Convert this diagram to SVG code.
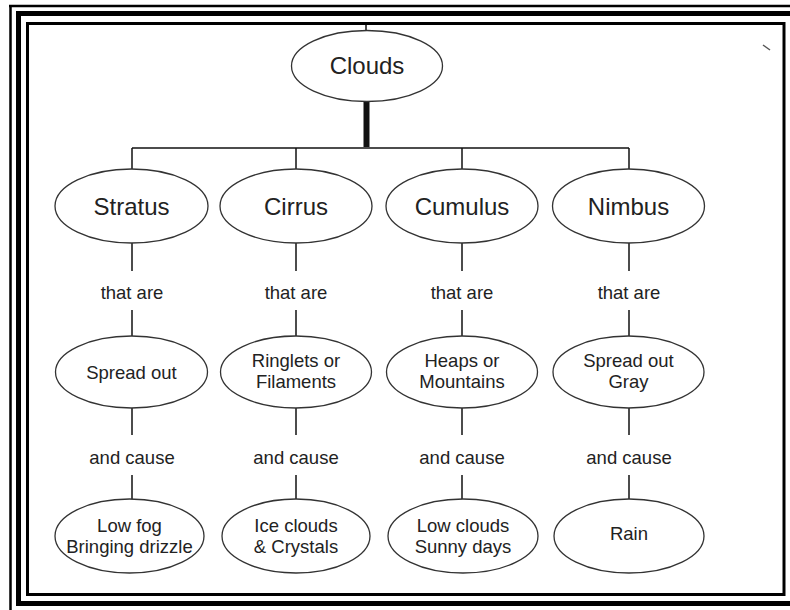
<svg xmlns="http://www.w3.org/2000/svg" width="790" height="610" viewBox="0 0 790 610">
<style>
.node ellipse{fill:#fff;stroke:#333;stroke-width:1.3}
.big{font-family:"Liberation Sans",Arial,sans-serif;font-size:24px;fill:#222;text-anchor:middle}
.sm{font-family:"Liberation Sans",Arial,sans-serif;font-size:18.5px;fill:#222;text-anchor:middle}
.conn line{stroke:#111;stroke-width:1.5}
.frame{fill:none;stroke:#000}
</style>
<rect width="790" height="610" fill="#fff"/>
<g id="frame">
<path class="frame" d="M9 6H790M10.5 5V610" stroke-width="2.5"/>
<path class="frame" d="M16 13.5H790M18.5 11V606M16 603.5H790" stroke-width="5"/>
<rect class="frame" x="27.5" y="23.5" width="756.5" height="571" stroke-width="3"/>
<line x1="763" y1="45" x2="770" y2="50" stroke="#555" stroke-width="1.5"/>
</g>
<g id="connectors" class="conn">
<line x1="366" y1="25" x2="366" y2="31"/>
<line x1="366.5" y1="102" x2="366.5" y2="147" style="stroke-width:6"/>
<line x1="132" y1="148" x2="629" y2="148"/>
<line x1="132" y1="148" x2="132" y2="169"/>
<line x1="296" y1="148" x2="296" y2="169"/>
<line x1="462" y1="148" x2="462" y2="169"/>
<line x1="629" y1="148" x2="629" y2="169"/>
<line x1="132" y1="243" x2="132" y2="271"/><line x1="132" y1="310" x2="132" y2="336"/>
<line x1="296" y1="243" x2="296" y2="271"/><line x1="296" y1="310" x2="296" y2="336"/>
<line x1="462" y1="243" x2="462" y2="271"/><line x1="462" y1="310" x2="462" y2="336"/>
<line x1="629" y1="243" x2="629" y2="271"/><line x1="629" y1="310" x2="629" y2="336"/>
<line x1="132" y1="408" x2="132" y2="435"/><line x1="132" y1="475" x2="132" y2="500"/>
<line x1="296" y1="408" x2="296" y2="435"/><line x1="296" y1="475" x2="296" y2="500"/>
<line x1="462" y1="408" x2="462" y2="435"/><line x1="462" y1="475" x2="462" y2="500"/>
<line x1="629" y1="408" x2="629" y2="435"/><line x1="629" y1="475" x2="629" y2="500"/>
<text class="sm" x="132" y="298.5">that are</text>
<text class="sm" x="296" y="298.5">that are</text>
<text class="sm" x="462" y="298.5">that are</text>
<text class="sm" x="629" y="298.5">that are</text>
<text class="sm" x="132" y="463.5">and cause</text>
<text class="sm" x="296" y="463.5">and cause</text>
<text class="sm" x="462" y="463.5">and cause</text>
<text class="sm" x="629" y="463.5">and cause</text>
</g>
<g id="clouds" class="node"><ellipse cx="367" cy="66" rx="75.5" ry="35.5"/><text class="big" x="367" y="74">Clouds</text></g>
<g id="stratus" class="node"><ellipse cx="131.5" cy="206" rx="76.5" ry="37"/><text class="big" x="131.5" y="215">Stratus</text></g>
<g id="cirrus" class="node"><ellipse cx="296" cy="206" rx="76" ry="37"/><text class="big" x="296" y="215">Cirrus</text></g>
<g id="cumulus" class="node"><ellipse cx="462" cy="206" rx="76" ry="37"/><text class="big" x="462" y="215">Cumulus</text></g>
<g id="nimbus" class="node"><ellipse cx="628.5" cy="206" rx="76" ry="37"/><text class="big" x="628.5" y="215">Nimbus</text></g>
<g id="spread-out" class="node"><ellipse cx="131.5" cy="372" rx="76" ry="36"/><text class="sm" x="131.5" y="378.5">Spread out</text></g>
<g id="ringlets" class="node"><ellipse cx="296" cy="372" rx="75.5" ry="36"/><text class="sm" x="296" y="367">Ringlets or</text><text class="sm" x="296" y="388">Filaments</text></g>
<g id="heaps" class="node"><ellipse cx="462" cy="372" rx="75.5" ry="36"/><text class="sm" x="462" y="367">Heaps or</text><text class="sm" x="462" y="388">Mountains</text></g>
<g id="spread-gray" class="node"><ellipse cx="628.5" cy="372" rx="75.5" ry="36"/><text class="sm" x="628.5" y="367">Spread out</text><text class="sm" x="628.5" y="388">Gray</text></g>
<g id="low-fog" class="node"><ellipse cx="129.5" cy="536" rx="74.5" ry="37"/><text class="sm" x="129.5" y="531.5">Low fog</text><text class="sm" x="129.5" y="553">Bringing drizzle</text></g>
<g id="ice-clouds" class="node"><ellipse cx="296" cy="536" rx="74" ry="37"/><text class="sm" x="296" y="531.5">Ice clouds</text><text class="sm" x="296" y="553">&amp; Crystals</text></g>
<g id="low-clouds" class="node"><ellipse cx="463" cy="536" rx="75" ry="37"/><text class="sm" x="463" y="531.5">Low clouds</text><text class="sm" x="463" y="553">Sunny days</text></g>
<g id="rain" class="node"><ellipse cx="629" cy="536" rx="75" ry="37"/><text class="sm" x="629" y="540">Rain</text></g>
</svg>
